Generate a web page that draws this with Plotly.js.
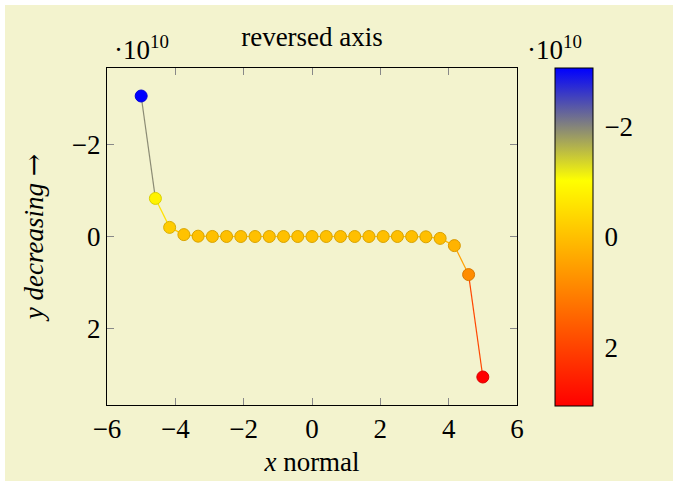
<!DOCTYPE html>
<html>
<head>
<meta charset="utf-8">
<script src="https://cdn.plot.ly/plotly-3.0.1.min.js"></script>
<style>
html,body{margin:0;padding:0;background:#FFFFFF;}
#chart{position:absolute;left:5px;top:5px;width:668px;height:476px;}
</style>
</head>
<body>
<div id="chart"></div>
<script>
// x samples (25 points from -5 to 5)
const xValues = [-5, -4.5833, -4.1667, -3.75, -3.3333, -2.9167, -2.5, -2.0833, -1.6667, -1.25, -0.8333, -0.4167, 0,
                 0.4167, 0.8333, 1.25, 1.6667, 2.0833, 2.5, 2.9167, 3.3333, 3.75, 4.1667, 4.5833, 5];
// y values
const yValues = [-3.0518e10, -8.273e9, -1.981e9, -4.08e8, -6.97e7, -9.4e6, -9.3e5, -6.1e4, -2.1e3, -28, -0.065, 0, 0,
                 0, 0.065, 28, 2.1e3, 6.1e4, 9.3e5, 9.4e6, 6.97e7, 4.08e8, 1.981e9, 8.273e9, 3.0518e10];
// tick labels
const xTickVals = [-6, -4, -2, 0, 2, 4, 6];
const xTickText = ['−6', '−4', '−2', '0', '2', '4', '6'];
const yTickVals = [-2e10, 0, 2e10];
const yTickText = ['−2', '0', '2'];
const cbTickText = ['−2', '0', '2'];

const BG = '#F3F3CE';
const FONT = 'Liberation Serif, Times New Roman, serif';
const FS = 27;
const W = 668, H = 476;
const M = {l: 102, r: 156, t: 63, b: 76};
const PW = W - M.l - M.r, PH = H - M.t - M.b;
const CB = {x0: 550, x1: 588, y0: 63, y1: 401}; // colorbar box, in div pixels
const cmin = Math.min(...yValues), cmax = Math.max(...yValues);

// pgfplots "hot" colormap: blue, yellow, orange, red
const stops = [[0, [0, 0, 255]], [1/3, [255, 255, 0]], [2/3, [255, 128, 0]], [1, [255, 0, 0]]];
function cmap(v, k) {
  let f = (v - cmin) / (cmax - cmin);
  f = Math.max(0, Math.min(1, f));
  let i = 0;
  while (i < stops.length - 2 && f > stops[i + 1][0]) i++;
  const [f0, c0] = stops[i], [f1, c1] = stops[i + 1];
  const t = (f - f0) / (f1 - f0);
  const c = c0.map((a, j) => Math.round((a + (c1[j] - a) * t) * (k || 1)));
  return 'rgb(' + c.join(',') + ')';
}
const px2x = p => (p - M.l) / PW;
const px2y = p => 1 - (p - M.t) / PH;

const traces = [];
// line segments, each coloured by the mapped value of its midpoint
for (let i = 0; i < xValues.length - 1; i++) {
  traces.push({
    x: [xValues[i], xValues[i + 1]],
    y: [yValues[i], yValues[i + 1]],
    mode: 'lines', type: 'scatter', hoverinfo: 'skip', showlegend: false,
    line: {color: cmap((yValues[i] + yValues[i + 1]) / 2), width: 1.2}
  });
}
// markers (colour axis negated so the colorbar runs blue at top, like the reversed axis)
const revScale = [[0, 'rgb(255,0,0)'], [1/3, 'rgb(255,128,0)'], [2/3, 'rgb(255,255,0)'], [1, 'rgb(0,0,255)']];
traces.push({
  x: xValues, y: yValues, mode: 'markers', type: 'scatter', showlegend: false,
  marker: {
    size: 12,
    color: yValues.map(v => -v),
    colorscale: revScale, cmin: -cmax, cmax: -cmin,
    line: {width: 1, color: yValues.map(v => cmap(v, 0.85))},
    showscale: true,
    colorbar: {
      thickness: CB.x1 - CB.x0, thicknessmode: 'pixels',
      len: CB.y1 - CB.y0, lenmode: 'pixels',
      x: px2x(CB.x0), xanchor: 'left', xpad: 0,
      y: px2y((CB.y0 + CB.y1) / 2), yanchor: 'middle', ypad: 0,
      outlinewidth: 1, outlinecolor: '#000',
      ticks: 'outside', ticklen: 6, tickcolor: 'rgba(0,0,0,0)', tickwidth: 1,
      tickvals: yTickVals.map(v => -v), ticktext: cbTickText,
      tickfont: {family: FONT, size: FS, color: '#000'}
    }
  }
});

// inside tick marks on both sides of the colorbar
const shapes = [];
yTickVals.forEach(v => {
  const py = CB.y0 + (v - cmin) / (cmax - cmin) * (CB.y1 - CB.y0);
  [[CB.x0, CB.x0 + 7], [CB.x1 - 7, CB.x1]].forEach(([a, b]) => {
    shapes.push({type: 'line', xref: 'paper', yref: 'paper', x0: px2x(a), x1: px2x(b), y0: px2y(py), y1: px2y(py),
                 line: {color: '#888', width: 1}});
  });
});

const layout = {
  width: W, height: H,
  paper_bgcolor: BG, plot_bgcolor: BG,
  margin: M,
  title: {text: 'reversed axis', font: {family: FONT, size: FS, color: '#000'},
          x: 0.5, xref: 'paper', y: 1 - 32 / H, yanchor: 'middle'},
  xaxis: {
    range: [-6, 6], tickvals: xTickVals, ticktext: xTickText,
    showgrid: false, zeroline: false, showline: true, linecolor: '#000', linewidth: 1, mirror: 'ticks',
    ticks: 'inside', ticklen: 7, tickcolor: '#888',
    tickfont: {family: FONT, size: FS, color: '#000'},
    title: {text: '<i>x</i> normal', font: {family: FONT, size: FS, color: '#000'}, standoff: 8}
  },
  yaxis: {
    range: [3.66e10, -3.66e10], tickvals: yTickVals, ticktext: yTickText,
    showgrid: false, zeroline: false, showline: true, linecolor: '#000', linewidth: 1, mirror: 'ticks',
    ticks: 'inside', ticklen: 7, tickcolor: '#888',
    tickfont: {family: FONT, size: FS, color: '#000'},
    title: {text: '<i>y decreasing</i> <span style="font-family:DejaVu Serif">→</span>',
            font: {family: FONT, size: FS, color: '#000'}, standoff: 20}
  },
  shapes: shapes,
  annotations: [
    {text: '·10<sup>10</sup>', xref: 'paper', yref: 'paper', x: px2x(107), xanchor: 'left',
     y: px2y(43), yanchor: 'middle', showarrow: false, font: {family: FONT, size: FS, color: '#000'}},
    {text: '·10<sup>10</sup>', xref: 'paper', yref: 'paper', x: px2x(520), xanchor: 'left',
     y: px2y(43), yanchor: 'middle', showarrow: false, font: {family: FONT, size: FS, color: '#000'}}
  ]
};

Plotly.newPlot('chart', traces, layout, {displayModeBar: false, staticPlot: true});
</script>
</body>
</html>
